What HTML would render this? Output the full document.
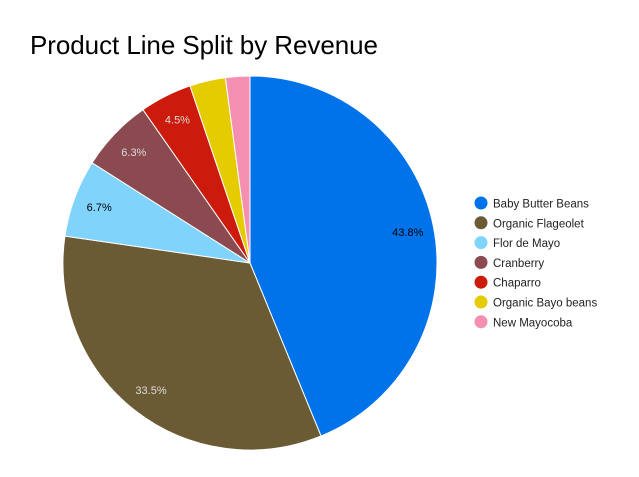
<!DOCTYPE html>
<html><head><meta charset="utf-8"><style>
body{margin:0;background:#fff;width:639px;height:472px;overflow:hidden;font-family:"Liberation Sans",Roboto,sans-serif}
</style></head><body>
<svg width="639" height="472">
<text x="30" y="54" font-size="26" fill="#000" textLength="348">Product Line Split by Revenue</text>
<g id="slices"></g><g id="labels"></g><g id="legend"></g>
</svg>
<script>
const categories=["Baby Butter Beans","Organic Flageolet","Flor de Mayo","Cranberry","Chaparro","Organic Bayo beans","New Mayocoba"];
const values=[43.8,33.5,6.7,6.3,4.5,3.1,2.1];
const colors=["#0073ea","#6b5b35","#80d4fc","#8a4a50","#cc1b0c","#e5cc00","#f48fb1"];
const labelColors=["#000","#ddd","#000","#ddd","#ddd","#000","#000"];
const cx=250,cy=263,R=187,ns="http://www.w3.org/2000/svg";
const total=values.reduce((a,b)=>a+b,0);
const sg=document.getElementById('slices'),lg=document.getElementById('labels'),leg=document.getElementById('legend');
function pt(a,r){return [cx+r*Math.sin(a),cy-r*Math.cos(a)];}
let acc=0;
values.forEach((v,i)=>{
 const a0=acc/total*2*Math.PI;acc+=v;const a1=acc/total*2*Math.PI;
 const p0=pt(a0,R),p1=pt(a1,R);
 const p=document.createElementNS(ns,'path');
 p.setAttribute('d',`M${cx},${cy}L${p0[0]},${p0[1]}A${R},${R} 0 ${a1-a0>Math.PI?1:0} 1 ${p1[0]},${p1[1]}Z`);
 p.setAttribute('fill',colors[i]);p.setAttribute('stroke','#fff');p.setAttribute('stroke-width','1');
 
 
 sg.appendChild(p);
 if(v/total>0.04){
  const m=pt((a0+a1)/2,R*0.86);
  const t=document.createElementNS(ns,'text');
  t.setAttribute('x',m[0]);t.setAttribute('y',m[1]+4);t.setAttribute('text-anchor','middle');
  t.setAttribute('font-size','11');t.setAttribute('fill',labelColors[i]);
  t.textContent=v.toFixed(1)+'%';
  
  
  lg.appendChild(t);
 }
 const y=203+i*19.8;
 const g=document.createElementNS(ns,'g');
 
 
 const c=document.createElementNS(ns,'circle');c.setAttribute('cx',481);c.setAttribute('cy',y);c.setAttribute('r',6.5);c.setAttribute('fill',colors[i]);
 const t=document.createElementNS(ns,'text');t.setAttribute('x',493);t.setAttribute('y',y+4.5);t.setAttribute('font-size','11.5');t.setAttribute('fill','#222');t.textContent=categories[i];
 g.appendChild(c);g.appendChild(t);leg.appendChild(g);
});
</script>
</body></html>
